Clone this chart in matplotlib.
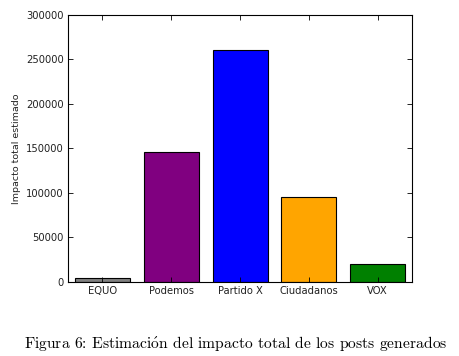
import matplotlib
matplotlib.use("Agg")
import matplotlib.pyplot as plt

partidos = ["EQUO", "Podemos", "Partido X", "Ciudadanos", "VOX"]
impacto = [4500, 146500, 260500, 96000, 20000]
colores = ["gray", "purple", "blue", "orange", "green"]

fig = plt.figure(figsize=(4.6, 3.56), dpi=100)
ax = fig.add_axes([0.148, 0.208, 0.748, 0.750])

x = list(range(len(partidos)))
ax.bar(x, impacto, width=0.8, color=colores, edgecolor="black", linewidth=0.8)

ax.set_xlim(-0.5, len(partidos) - 0.5)
ax.set_ylim(0, 300000)
ax.set_xticks(x)
ax.set_xticklabels(partidos)
ax.set_yticks(range(0, 300001, 50000))
ax.tick_params(direction="in", top=True, right=True, labelsize=7.2, length=3.5, width=0.6, pad=3,
               labelcolor="#222222")
ax.set_ylabel("Impacto total estimado", fontsize=6.8, color="#222222")
for s in ax.spines.values():
    s.set_linewidth(0.8)

# caption in Computer Modern, the accent through mathtext
caption = r"Figura 6: Estimaci$\mathrm{\acute{o}}$n del impacto total de los posts generados"
fig.text(0.512, 0.036, caption, ha="center", va="center", fontsize=11.25,
         family="cmr10", math_fontfamily="cm")

fig.savefig("out.png", dpi=100)
